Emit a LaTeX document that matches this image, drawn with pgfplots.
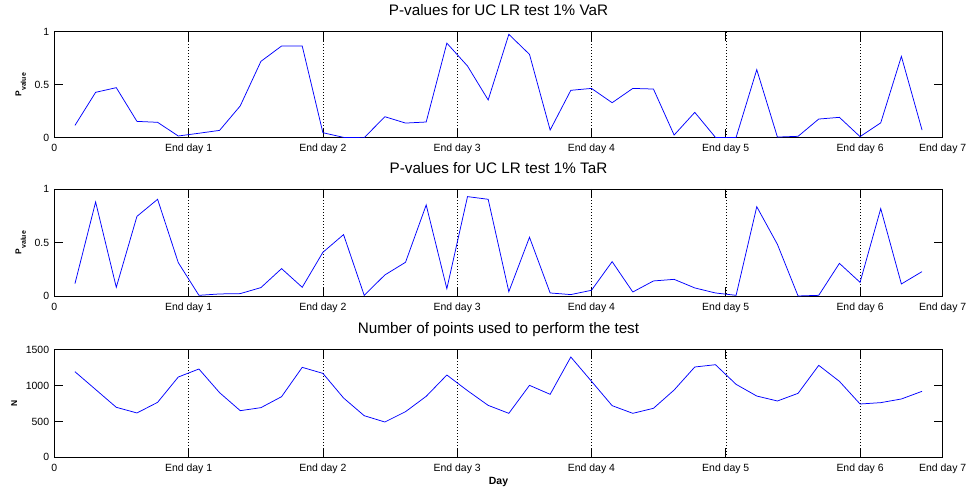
\documentclass[border=0pt]{standalone}
\usepackage{fontspec}
\setmainfont{Liberation Sans}
\usepackage{pgfplots}
\usepackage{pgfplotstable}
\pgfplotsset{compat=1.18}
\definecolor{mblue}{RGB}{0,0,255}

\pgfplotstableread{
k var tar n
1 0.116 0.118 1193
2 0.428 0.879 945
3 0.472 0.084 697
4 0.154 0.745 618
5 0.145 0.904 766
6 0.016 0.314 1119
7 0.042 0.009 1231
8 0.069 0.022 901
9 0.300 0.025 650
10 0.720 0.081 692
11 0.865 0.258 845
12 0.865 0.084 1254
13 0.047 0.410 1170
14 0.003 0.575 827
15 0.000 0.009 580
16 0.198 0.199 492
17 0.138 0.317 636
18 0.148 0.851 850
19 0.892 0.071 1147
20 0.676 0.929 929
21 0.356 0.904 724
22 0.975 0.043 613
23 0.786 0.550 1003
24 0.072 0.031 878
25 0.447 0.016 1398
26 0.465 0.056 1060
27 0.330 0.323 720
28 0.465 0.040 613
29 0.459 0.143 683
30 0.025 0.158 938
31 0.239 0.078 1259
32 0.003 0.031 1291
33 0.003 0.009 1017
34 0.642 0.835 854
35 0.006 0.484 785
36 0.013 0.003 892
37 0.176 0.009 1282
38 0.192 0.307 1059
39 0.010 0.130 743
40 0.140 0.817 762
41 0.767 0.115 813
42 0.072 0.230 920
}\datatable

\pgfplotsset{
  mstyle/.style={
    scale only axis, width=888.4bp,
    anchor=south west,
    xmin=0, xmax=43,
    xtick={0,6.5,13,19.5,26,32.5,39,43},
    xticklabels={0,End day 1,End day 2,End day 3,End day 4,End day 5,End day 6,End day 7},
    xmajorgrids, major grid style={black, line width=0.5bp, dash pattern=on 0.6bp off 2.4bp},
    tick align=inside, major tick length=9bp, minor tick num=0,
    every tick/.style={black, line width=0.6bp},
    axis line style={black, line width=0.8bp},
    ticklabel style={font=\fontsize{10.5}{12}\selectfont},
    xticklabel style={anchor=base, yshift=-14bp, inner sep=0pt},
    yticklabel style={anchor=east, inner sep=0pt, xshift=-5bp},
    title style={font=\fontsize{15.3}{16}\selectfont, at={(0.5,1)}, anchor=base, yshift=10bp, inner sep=0pt},
    ylabel style={inner sep=0pt, font=\bfseries\fontsize{8.5}{9}\selectfont},
    ylabel shift=8.5bp,
    /pgf/number format/assume math mode=true,
  }
}

\begin{document}
\begin{tikzpicture}
\useasboundingbox (0,0) rectangle (970bp,491bp);

\begin{axis}[mstyle, at={(54.3bp,353.3bp)}, height=106bp,
  ymin=0, ymax=1, ytick={0,0.5,1}, yticklabels={0,0.5,1},
  title={P-values for UC LR test 1\% VaR},
  ylabel={P\raisebox{-4.3bp}{\fontsize{7}{7}\selectfont\bfseries value}}]
\addplot[mblue, line width=0.75bp] table[x=k, y=var] {\datatable};
\end{axis}

\begin{axis}[mstyle, at={(54.3bp,194.7bp)}, height=107.3bp,
  ymin=0, ymax=1, ytick={0,0.5,1}, yticklabels={0,0.5,1},
  title={P-values for UC LR test 1\% TaR},
  ylabel={P\raisebox{-4.3bp}{\fontsize{7}{7}\selectfont\bfseries value}}]
\addplot[mblue, line width=0.75bp] table[x=k, y=tar] {\datatable};
\end{axis}

\begin{axis}[mstyle, at={(54.3bp,33.7bp)}, height=107.6bp,
  ymin=0, ymax=1500, ytick={0,500,1000,1500}, yticklabels={0,500,1000,1500},
  title={Number of points used to perform the test},
  ylabel={N},
  xlabel={Day},
  xlabel style={at={(0.5,0)}, anchor=base, yshift=-26.7bp, inner sep=0pt, font=\bfseries\fontsize{10.5}{12}\selectfont}]
\addplot[mblue, line width=0.75bp] table[x=k, y=n] {\datatable};
\end{axis}
\end{tikzpicture}
\end{document}
